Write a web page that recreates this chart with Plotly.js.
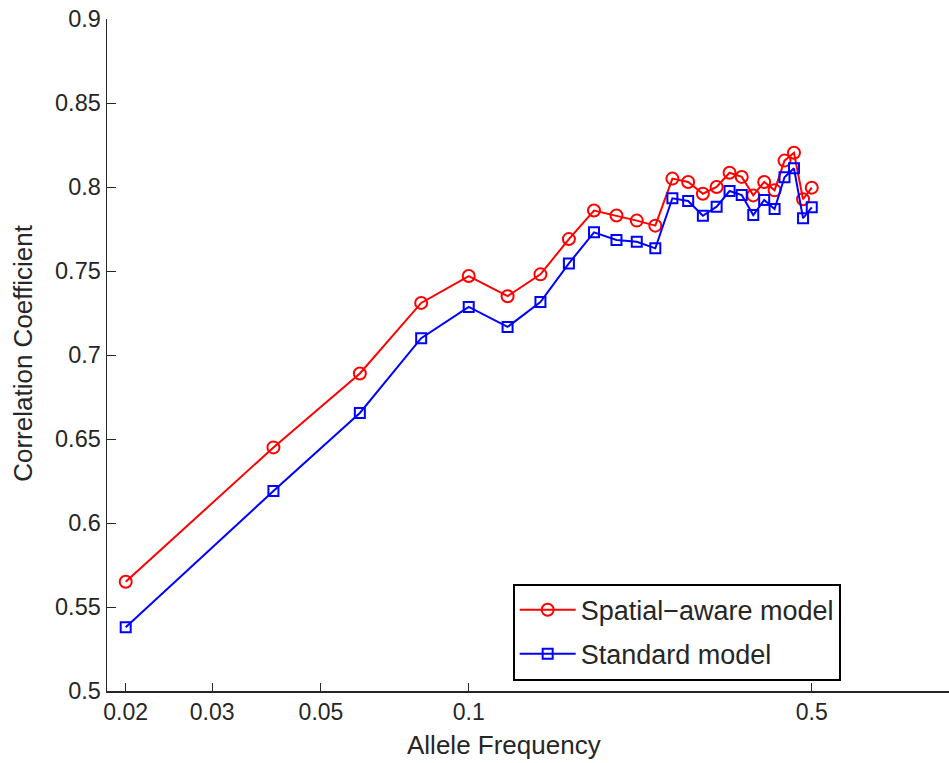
<!DOCTYPE html>
<html>
<head>
<meta charset="utf-8">
<script src="https://cdn.plot.ly/plotly-3.0.1.min.js"></script>
<style>
html, body { margin: 0; padding: 0; background: #fff; overflow: hidden; }
#chart { width: 949px; height: 763px; }
</style>
</head>
<body>
<div id="chart"></div>
<script>
const freq = [0.02, 0.04, 0.06, 0.08, 0.10, 0.12, 0.14, 0.16, 0.18, 0.20, 0.22, 0.24, 0.26,
              0.28, 0.30, 0.32, 0.34, 0.36, 0.38, 0.40, 0.42, 0.44, 0.46, 0.48, 0.50];
const spatialAware = [0.565, 0.645, 0.689, 0.731, 0.747, 0.735, 0.748, 0.769, 0.786, 0.783, 0.780, 0.777, 0.805,
                      0.803, 0.796, 0.800, 0.8085, 0.806, 0.795, 0.803, 0.798, 0.8157, 0.8204, 0.7927, 0.7996];
const standard = [0.538, 0.619, 0.6655, 0.710, 0.7286, 0.7167, 0.7315, 0.7545, 0.773, 0.7685, 0.7674, 0.7635, 0.7933,
                  0.7917, 0.7829, 0.7883, 0.7976, 0.7952, 0.7833, 0.7923, 0.7869, 0.8058, 0.8111, 0.7814, 0.7879];
const xTicks = [0.02, 0.03, 0.05, 0.1, 0.5];
const xTickText = ['0.02', '0.03', '0.05', '0.1', '0.5'];
const yTicks = [0.5, 0.55, 0.6, 0.65, 0.7, 0.75, 0.8, 0.85, 0.9];
const yTickText = ['0.5', '0.55', '0.6', '0.65', '0.7', '0.75', '0.8', '0.85', '0.9'];
const seriesNames = ['Spatial\u2212aware model', 'Standard model'];

const FONT = 'Liberation Sans, Arial, Helvetica, sans-serif';
const TXT = '#262626';

const traces = [
  {
    x: freq, y: spatialAware, name: seriesNames[0], type: 'scatter', mode: 'lines+markers',
    legendgroup: 'a',
    line: {color: '#ff0000', width: 2},
    marker: {symbol: 'circle-open', size: 12, color: '#ff0000', line: {width: 2, color: '#ff0000'}}
  },
  {
    x: freq, y: standard, name: seriesNames[1], type: 'scatter', mode: 'lines+markers',
    legendgroup: 'b',
    line: {color: '#0000ff', width: 2},
    marker: {symbol: 'square-open', size: 10, color: '#0000ff', line: {width: 2, color: '#0000ff'}}
  }
];

const layout = {
  width: 949, height: 763,
  margin: {l: 107, r: 0, t: 19, b: 72},
  paper_bgcolor: '#fff', plot_bgcolor: '#fff',
  font: {family: FONT, color: TXT, size: 23},
  showlegend: true,
  xaxis: {
    type: 'log',
    range: [Math.log10(0.01832), Math.log10(0.952)],
    tickvals: xTicks, ticktext: xTickText,
    ticks: 'inside', ticklen: 8, tickwidth: 1, tickcolor: TXT,
    showgrid: false, zeroline: false,
    showline: true, linecolor: TXT, linewidth: 1.5,
    tickfont: {family: FONT, size: 23, color: TXT},
    mirror: false
  },
  yaxis: {
    range: [0.5, 0.9],
    tickvals: yTicks, ticktext: yTickText,
    ticks: 'inside', ticklen: 9, tickwidth: 1, tickcolor: TXT,
    showgrid: false, zeroline: false,
    showline: true, linecolor: TXT, linewidth: 1.5,
    tickfont: {family: FONT, size: 23.5, color: TXT},
    ticklabelstandoff: 0
  },
  legend: {
    x: 0.4818, y: 0.0153, xanchor: 'left', yanchor: 'bottom',
    bgcolor: '#fff', bordercolor: '#000', borderwidth: 2,
    font: {family: FONT, size: 27, color: TXT},
    itemwidth: 56,
    tracegroupgap: 6,
    entrywidth: 345, entrywidthmode: 'pixels'
  },
  annotations: [
    {text: 'Allele Frequency', xref: 'paper', yref: 'paper', x: 0.4715, y: -0.0804,
     xanchor: 'center', yanchor: 'middle', showarrow: false, font: {family: FONT, size: 26, color: TXT}},
    {text: 'Correlation Coefficient', xref: 'paper', yref: 'paper', x: -0.1, xshift: 0, y: 0.503,
     xanchor: 'center', yanchor: 'middle', textangle: -90, showarrow: false, font: {family: FONT, size: 26, color: TXT}}
  ]
};

Plotly.newPlot('chart', traces, layout, {displayModeBar: false, staticPlot: true});
</script>
</body>
</html>
